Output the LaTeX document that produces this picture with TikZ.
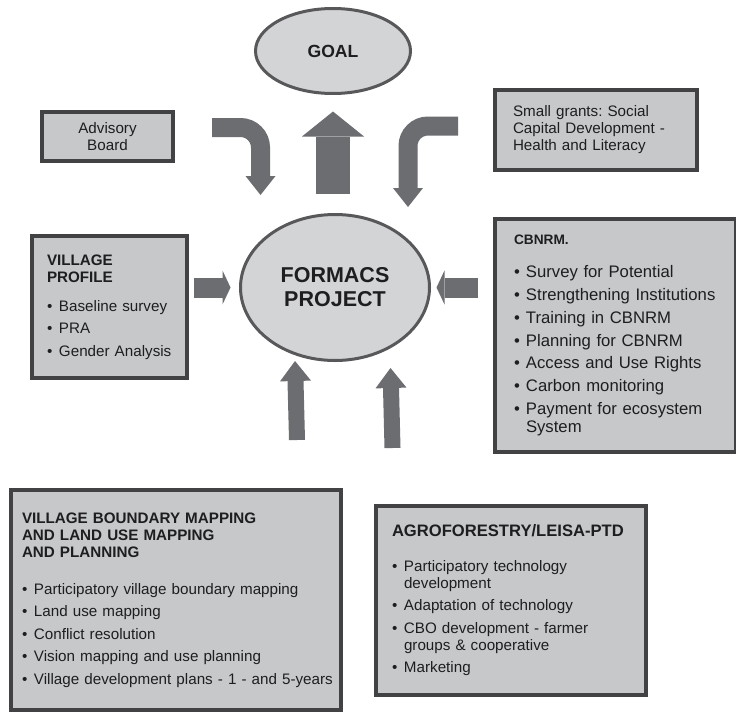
\documentclass[tikz,border=0pt]{standalone}
\usepackage{fontspec}
\setmainfont{Liberation Sans}
\usepackage{xcolor}
\usepackage{tikz}
\usetikzlibrary{arrows.meta, positioning, calc, shapes.geometric}
\frenchspacing

\definecolor{boxfill}{RGB}{199,200,202}
\definecolor{boxline}{RGB}{66,66,68}
\definecolor{ovalfill}{RGB}{211,212,214}
\definecolor{ovalline}{RGB}{88,88,91}
\definecolor{arrfill}{RGB}{108,109,113}
\definecolor{txt}{RGB}{30,30,32}

\newcommand{\bul}{\makebox[12pt][l]{\textbullet}}
\newcommand{\ind}{\hspace*{12pt}}

\begin{document}
\begin{tikzpicture}[
    x=1pt, y=-1pt,
    %% Grey text boxes
    gbox/.style = {
      draw=boxline, line width=4pt, fill=boxfill,
      text=txt, inner ysep=0pt,
      font=\fontsize{15.2}{17}\selectfont},
    lbox/.style = {gbox, anchor=north west, align=left},
    %% Ovals
    ovalbox/.style = {
      ellipse, draw=ovalline, line width=3pt, fill=ovalfill,
      text=txt, inner sep=0pt, align=center},
    %% Block arrows
    bigarr/.style  = {arrfill, line width=34pt, -{Triangle[width=62pt,length=25pt,line width=0pt]}},
    bendarr/.style = {arrfill, line width=19pt, rounded corners=20pt, -{Triangle[width=30pt,length=19pt,line width=0pt]}},
    sidearr/.style = {arrfill, line width=20pt, -{Triangle[width=34pt,length=8pt,line width=0pt]}},
    lowarr/.style  = {arrfill, line width=16pt, -{Triangle[width=31pt,length=20pt,line width=0pt]}},
  ]

    \useasboundingbox (0,0) rectangle (736,712);
    \fill[white] (0,0) rectangle (736,712);

    %% ── Ovals ──────────────────────────────────────────────────────────────
    \node[ovalbox, minimum width=155, minimum height=85,
          font=\fontsize{17.6}{20}\selectfont\bfseries] (goal) at (333,51) {GOAL};
    \node[ovalbox, minimum width=189, minimum height=146,
          font=\fontsize{21.5}{24}\selectfont\bfseries] (proj) at (335,287.5) {FORMACS\\PROJECT};

    %% ── Boxes ──────────────────────────────────────────────────────────────
    \node[gbox, align=center, inner xsep=0pt, minimum width=131, minimum height=49]
      (adv) at (107.5,136.5) {Advisory\\Board};

    \node[lbox, text width=166pt, inner xsep=18pt, minimum height=80] (grants) at (493,88)
      {Small grants: Social\\Capital Development -\\Health and Literacy};

    \node[lbox, text width=125pt, inner xsep=15pt, minimum height=142] (vp) at (30,234)
      {\textbf{VILLAGE}\\\textbf{PROFILE}\\[12pt]
       \bul Baseline survey\\[5.5pt]
       \bul PRA\\[5.5pt]
       \bul Gender Analysis};

    \node[lbox, text width=203pt, inner xsep=19pt, minimum height=233,
          font=\fontsize{16.7}{18.7}\selectfont] (cbnrm) at (493,217)
      {{\fontsize{13.7}{18.7}\selectfont\bfseries CBNRM.}\\[15pt]
       \bul Survey for Potential\\[4pt]
       \bul Strengthening Institutions\\[4pt]
       \bul Training in CBNRM\\[4pt]
       \bul Planning for CBNRM\\[4pt]
       \bul Access and Use Rights\\[4pt]
       \bul Carbon monitoring\\[4pt]
       \bul Payment for ecosystem\\\ind System};

    \node[lbox, text width=308pt, inner xsep=11pt, minimum height=220] (vbm) at (9,488)
      {\textbf{VILLAGE BOUNDARY MAPPING}\\\textbf{AND LAND USE MAPPING}\\\textbf{AND PLANNING}\\[20pt]
       \bul Participatory village boundary mapping\\[5.5pt]
       \bul Land use mapping\\[5.5pt]
       \bul Conflict resolution\\[5.5pt]
       \bul Vision mapping and use planning\\[5.5pt]
       \mbox{\bul Village development plans - 1 - and 5-years}};

    \node[lbox, text width=238pt, inner xsep=16pt, minimum height=189] (agro) at (374,504)
      {{\fontsize{16.6}{17}\selectfont\bfseries AGROFORESTRY/LEISA-PTD}\\[17.5pt]
       \bul Participatory technology\\\ind development\\[5.5pt]
       \bul Adaptation of technology\\[5.5pt]
       \bul CBO development - farmer\\\ind groups \& cooperative\\[5.5pt]
       \bul Marketing};

    %% ── Block arrows ───────────────────────────────────────────────────────
    \draw[bigarr, shorten <=19pt, shorten >=16.5pt] (goal.south |- proj.north) -- (goal.south);
    \draw[bendarr] ($(adv.east)+(37,-9)$) -| ($(proj.north)+(-74.5,-18)$);
    \draw[bendarr] ($(grants.west)+(-35,-4)$) -| ($(proj.north)+(73,-6)$);
    \draw[sidearr, shorten <=5pt, shorten >=8.5pt] (vp.east |- proj.west) -- (proj.west);
    \draw[sidearr, shorten <=15pt, shorten >=5.5pt] (cbnrm.west |- proj.east) -- (proj.east);
    \draw[lowarr] ($(vbm.north)+(121,-48)$) -- ($(proj.south)+(-40,-1)$);
    \draw[lowarr] ($(agro.north)+(-118.5,-56)$) -- ($(proj.south)+(55.5,6)$);

\end{tikzpicture}
\end{document}
